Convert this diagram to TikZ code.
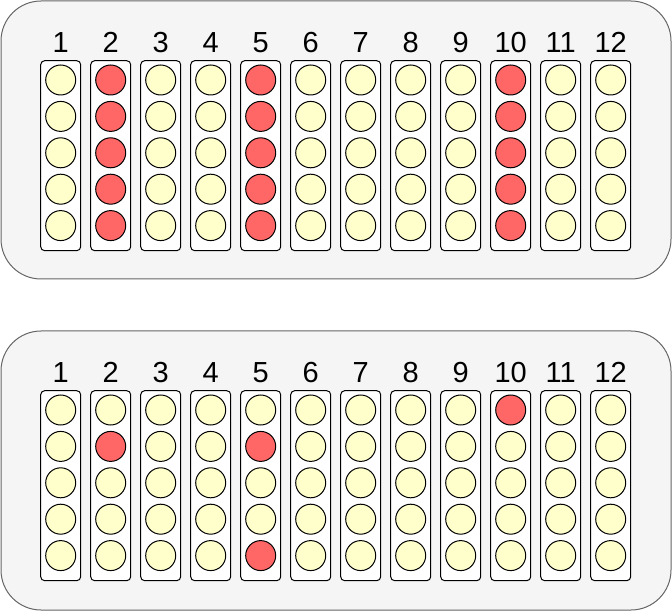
\documentclass[tikz,border=0pt]{standalone}
\usepackage{fontspec}
\setmainfont{Liberation Sans}
\definecolor{panelgray}{HTML}{F5F5F5}
\definecolor{edgegray}{HTML}{666666}
\definecolor{pegyellow}{HTML}{FFFFCC}
\definecolor{pegred}{HTML}{FF6666}

\begin{document}
\begin{tikzpicture}[x=1pt,y=-1pt]
  \tikzstyle{panel}=[draw=edgegray,fill=panelgray,line width=1pt,rounded corners=40pt]
  \tikzstyle{slot}=[draw=black,fill=white,line width=1pt,rounded corners=4pt,minimum width=40pt,minimum height=190pt,inner sep=0pt]
  \tikzstyle{peg}=[circle,draw=black,line width=1pt,minimum size=30pt,inner sep=0pt]
  \tikzstyle{num}=[inner sep=0pt,anchor=base,font=\fontsize{29pt}{29pt}\selectfont]

  \useasboundingbox (0,0) rectangle (672,612);

  \draw[panel] (1,1) rectangle (671,279);
  \draw[panel] (1,331) rectangle (671,610);

  % upper panel: columns 2, 5 and 10 all red
  \foreach \c in {1,...,12}{
    \node[num] (tn\c) at (10.7+50*\c,52.6) {\c};
    \node[slot] (t\c) at (10.7+50*\c,155.7) {};
    \foreach \r in {1,...,5}{
      \pgfmathtruncatemacro\isred{(\c==2) || (\c==5) || (\c==10)}
      \ifnum\isred=1 \def\pegcol{pegred}\else\def\pegcol{pegyellow}\fi
      \node[peg,fill=\pegcol] (t\c-\r) at (10.7+50*\c,43.6+36.4*\r) {};
    }
  }

  % lower panel: only a few red ones left
  \foreach \c in {1,...,12}{
    \node[num] (bn\c) at (10.7+50*\c,382.8) {\c};
    \node[slot] (b\c) at (10.7+50*\c,485.7) {};
    \foreach \r in {1,...,5}{
      \pgfmathtruncatemacro\isred{(\c==2 && \r==2) || (\c==5 && \r==2) || (\c==5 && \r==5) || (\c==10 && \r==1)}
      \ifnum\isred=1 \def\pegcol{pegred}\else\def\pegcol{pegyellow}\fi
      \node[peg,fill=\pegcol] (b\c-\r) at (10.7+50*\c,373.6+36.4*\r) {};
    }
  }

\end{tikzpicture}
\end{document}
